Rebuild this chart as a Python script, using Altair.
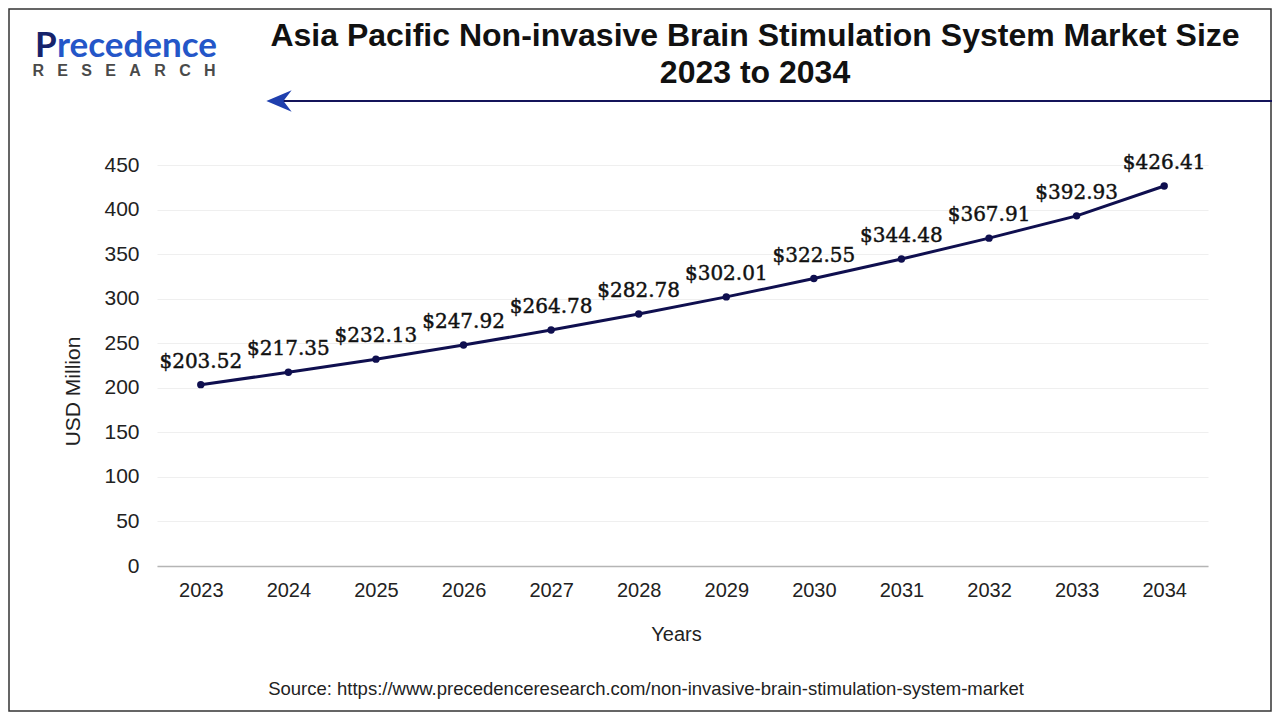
import altair as alt
import pandas as pd

years = ["2023", "2024", "2025", "2026", "2027", "2028", "2029", "2030", "2031", "2032", "2033", "2034"]
values = [203.52, 217.35, 232.13, 247.92, 264.78, 282.78, 302.01, 322.55, 344.48, 367.91, 392.93, 426.41]
labels = ["$" + f"{v:.2f}" for v in values]

df = pd.DataFrame({"Year": years, "Value": values, "Label": labels})
one = pd.DataFrame({"k": [0]})

W, H = 1051, 401
PL, PT = 149, 157
TOTAL_W, TOTAL_H = 1264, 704

x_enc = alt.X("Year:O", title="Years", sort=years,
              scale=alt.Scale(paddingInner=0, paddingOuter=0.5),
              axis=alt.Axis(labelAngle=0, labelFontSize=20, labelFont="Liberation Sans",
                            labelColor="#222", labelPadding=14, ticks=False,
                            domainColor="#b5b5b5", domainWidth=1.5,
                            titleFontSize=20, titleFont="Liberation Sans", titleFontWeight="normal",
                            titleColor="#222", titleX=519, titleY=68, titleBaseline="middle"))
y_enc = alt.Y("Value:Q", title="USD Million",
              scale=alt.Scale(domain=[0, 450], nice=False),
              axis=alt.Axis(values=list(range(0, 451, 50)), labelFontSize=21, labelFont="Liberation Sans",
                            labelColor="#222", labelPadding=18, ticks=False, domain=False,
                            gridColor="#efefef", gridWidth=1,
                            titleFontSize=21, titleFont="Liberation Sans", titleFontWeight="normal",
                            titleColor="#222", titleX=-84, titleY=226, titleBaseline="middle"))

line = alt.Chart(df).mark_line(color="#0f0f4f", strokeWidth=3).encode(x=x_enc, y=y_enc)
pts = alt.Chart(df).mark_point(filled=True, color="#0f0f4f", size=55, opacity=1).encode(x=x_enc, y=y_enc)
txt = alt.Chart(df).mark_text(font="DejaVu Serif", fontSize=20, color="#111", stroke="#111",
                              strokeWidth=0.45, baseline="alphabetic",
                              dy=-17).encode(x=x_enc, y=y_enc, text="Label:N")

border = alt.Chart(one).mark_rect(fill=None, stroke="#333", strokeWidth=1.5).encode(
    x=alt.value(-PL + 1), y=alt.value(-PT + 1), x2=alt.value(TOTAL_W - PL - 1), y2=alt.value(TOTAL_H - PT - 1))

title1 = alt.Chart(one).mark_text(text="Asia Pacific Non-invasive Brain Stimulation System Market Size",
                                  font="Liberation Sans", fontSize=32, fontWeight="bold", color="#111",
                                  baseline="middle").encode(x=alt.value(598), y=alt.value(-129))
title2 = alt.Chart(one).mark_text(text="2023 to 2034", font="Liberation Sans", fontSize=32,
                                  fontWeight="bold", color="#111", baseline="middle").encode(
    x=alt.value(598), y=alt.value(-92))

arrow_line = alt.Chart(one).mark_rule(color="#14145a", strokeWidth=2).encode(
    x=alt.value(118), x2=alt.value(TOTAL_W - PL), y=alt.value(-64))
arrow_head = alt.Chart(one).mark_point(
    shape="M-1,0 L1,-0.85 L0.35,0 L1,0.85 Z", filled=True, color="#1f3fae", size=640, opacity=1
).encode(x=alt.value(122), y=alt.value(-64))

logo_p = alt.Chart(one).mark_text(text="P", font="Lato", fontSize=35, fontWeight="bold",
                                  color="#16236b", baseline="alphabetic", align="left").encode(
    x=alt.value(-122), y=alt.value(-108))
logo1 = alt.Chart(one).mark_text(text="recedence", font="Lato", fontSize=35, fontWeight="bold",
                                 color="#2456c8", baseline="alphabetic", align="left").encode(
    x=alt.value(-100), y=alt.value(-108))
gap = "\u00a0\u00a0\u00a0"
logo2 = alt.Chart(one).mark_text(text=gap.join("RESEARCH"), font="Liberation Sans", fontSize=16,
                                 fontWeight="bold", color="#4a4a4a", baseline="middle").encode(
    x=alt.value(-33), y=alt.value(-94))

source = alt.Chart(one).mark_text(
    text="Source: https://www.precedenceresearch.com/non-invasive-brain-stimulation-system-market",
    font="Liberation Sans", fontSize=18.5, color="#222", baseline="middle").encode(
    x=alt.value(489), y=alt.value(524))

chart = alt.layer(border, title1, title2, arrow_line, arrow_head, logo_p, logo1, logo2, source,
                  line, pts, txt).properties(
    width=W, height=H,
    autosize=alt.AutoSizeParams(type="none"),
    padding={"left": PL, "top": PT, "right": TOTAL_W - PL - W, "bottom": TOTAL_H - PT - H},
    background="white",
).configure_view(stroke=None)

chart.save("out.html", embed_options={"renderer": "svg", "actions": False})
